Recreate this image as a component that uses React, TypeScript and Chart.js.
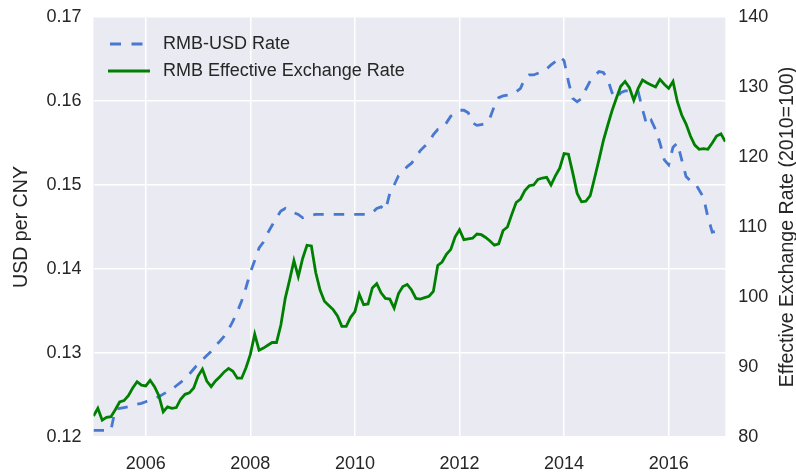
import React, { useEffect, useRef } from "react";
import { Chart, registerables } from "chart.js";

Chart.register(...registerables);

// Monthly observations, January 2005 onward
const START_YEAR = 2005;

// USD per CNY (left axis)
const usdPerCny: (number | null)[] = [
  0.1208, 0.1208, 0.1208, 0.1208, 0.1208, 0.1233, 0.1234, 0.1235, 0.1236, 0.1238, 0.1239, 0.1240,
  0.1242, 0.1244, 0.1246, 0.1248, 0.1251, 0.1254, 0.1257, 0.1261, 0.1265, 0.1270, 0.1275, 0.1281,
  0.1287, 0.1292, 0.1297, 0.1302, 0.1309, 0.1314, 0.1320, 0.1328, 0.1338, 0.1349, 0.1362, 0.1378,
  0.1396, 0.1410, 0.1425, 0.1432, 0.1443, 0.1452, 0.1461, 0.1469, 0.1472, 0.1468, 0.1467, 0.1465,
  0.1461, 0.1463, 0.1464, 0.1465, 0.1465, 0.1465, 0.1465, 0.1465, 0.1465, 0.1465, 0.1465, 0.1465,
  0.1465, 0.1465, 0.1465, 0.1465, 0.1467, 0.1472, 0.1474, 0.1470, 0.1490, 0.1500, 0.1511, 0.1516,
  0.1522, 0.1526, 0.1533, 0.1541, 0.1546, 0.1551, 0.1560, 0.1566, 0.1567, 0.1574, 0.1582, 0.1585,
  0.1589, 0.1589, 0.1586, 0.1574, 0.1571, 0.1572, 0.1573, 0.1580, 0.1594, 0.1604, 0.1606, 0.1607,
  0.1608, 0.1611, 0.1615, 0.1627, 0.1631, 0.1631, 0.1633, 0.1635, 0.1638, 0.1643, 0.1647, 0.1653,
  0.1648, 0.1623, 0.1603, 0.1599, 0.1603, 0.1614, 0.1624, 0.1630, 0.1635, 0.1634, 0.1626, 0.1610,
  0.1603, 0.1610, 0.1612, 0.1612, 0.1611, 0.1611, 0.1590, 0.1571, 0.1577, 0.1566, 0.1550, 0.1530,
  0.1524, 0.1545, 0.1550, 0.1530, 0.1510, 0.1505, 0.1503, 0.1494, 0.1485, 0.1462, 0.1444, 0.1445,
  0.1450, null,
];

// Effective exchange rate index, 2010 = 100 (right axis)
const effectiveRate: number[] = [
  83.0, 84.1, 82.4, 82.8, 82.9, 83.9, 85.0, 85.2, 85.9, 87.0, 87.9, 87.4,
  87.3, 88.1, 87.2, 85.9, 83.6, 84.3, 84.1, 84.2, 85.4, 86.1, 86.3, 87.0,
  88.7, 89.7, 88.0, 87.2, 88.0, 88.6, 89.3, 89.8, 89.4, 88.4, 88.4, 89.9,
  91.8, 94.7, 92.4, 92.7, 93.1, 93.5, 93.5, 96.0, 99.8, 102.4, 105.2, 102.9,
  105.5, 107.4, 107.3, 103.5, 101.0, 99.4, 98.8, 98.2, 97.3, 95.8, 95.8, 97.1,
  97.9, 100.4, 98.9, 99.0, 101.3, 101.9, 100.6, 99.8, 99.7, 98.4, 100.5, 101.5,
  101.8, 101.0, 99.8, 99.7, 99.9, 100.1, 100.8, 104.5, 105.0, 106.1, 106.8, 108.6,
  109.6, 108.2, 108.3, 108.4, 109.0, 108.9, 108.5, 108.0, 107.4, 107.6, 109.5, 110.0,
  111.8, 113.5, 114.0, 115.2, 115.9, 116.0, 116.8, 117.0, 117.1, 116.0, 117.3, 118.4,
  120.5, 120.4, 117.7, 114.8, 113.6, 113.7, 114.5, 117.0, 119.6, 122.3, 124.5, 126.6,
  128.4, 130.1, 130.8, 129.9, 128.1, 129.8, 131.0, 130.6, 130.3, 130.0, 131.1, 130.4,
  129.8, 130.8, 127.9, 126.0, 124.7, 123.0, 121.7, 121.1, 121.2, 121.1, 122.0, 123.0,
  123.3, 122.2,
];

const seriesLabels = ["RMB-USD Rate", "RMB Effective Exchange Rate"];
const xTickYears = [2006, 2008, 2010, 2012, 2014, 2016];
const leftTicks = [0.12, 0.13, 0.14, 0.15, 0.16, 0.17];
const rightTicks = [80, 90, 100, 110, 120, 130, 140];
const leftTitle = "USD per CNY";
const rightTitle = "Effective Exchange Rate (2010=100)";

const FONT_FAMILY = "'Liberation Sans', Arial, 'DejaVu Sans', sans-serif";
const TEXT_COLOR = "#262626";
const BLUE = "#4878CF";
const GREEN = "#008000";
const PLOT_BG = "#EAEAF2";

const bgPlugin = {
  id: "bgPlugin",
  beforeDraw(chart: any) {
    const { ctx, chartArea, width, height } = chart;
    ctx.save();
    ctx.fillStyle = "#ffffff";
    ctx.fillRect(0, 0, width, height);
    ctx.fillStyle = PLOT_BG;
    ctx.fillRect(chartArea.left, chartArea.top, chartArea.right - chartArea.left, chartArea.bottom - chartArea.top);
    ctx.restore();
  },
};

const legendPlugin = {
  id: "insideLegend",
  afterDatasetsDraw(chart: any) {
    const { ctx, chartArea } = chart;
    ctx.save();
    chart.data.datasets.forEach((ds: any, k: number) => {
      const y = chartArea.top + 27 + k * 27;
      const dashed = ds.borderDash && ds.borderDash.length > 0;
      const x0 = chartArea.left + (dashed ? 16.5 : 14.5);
      const x1 = chartArea.left + (dashed ? 50.5 : 56.5);
      ctx.beginPath();
      ctx.strokeStyle = ds.borderColor;
      ctx.lineWidth = ds.borderWidth;
      ctx.setLineDash(dashed ? [11, 10.5] : []);
      ctx.moveTo(x0, y);
      ctx.lineTo(x1, y);
      ctx.stroke();
      ctx.setLineDash([]);
      ctx.fillStyle = TEXT_COLOR;
      ctx.font = `18px ${FONT_FAMILY}`;
      ctx.textBaseline = "middle";
      ctx.textAlign = "left";
      ctx.fillText(ds.label, chartArea.left + 69.5, y);
    });
    ctx.restore();
  },
};

// Right-hand axis title, read bottom-to-top
const rightTitlePlugin = {
  id: "rightTitle",
  afterDraw(chart: any) {
    const { ctx, chartArea } = chart;
    ctx.save();
    ctx.translate(788, (chartArea.top + chartArea.bottom) / 2);
    ctx.rotate(-Math.PI / 2);
    ctx.fillStyle = TEXT_COLOR;
    ctx.font = `19.6px ${FONT_FAMILY}`;
    ctx.textAlign = "center";
    ctx.textBaseline = "middle";
    ctx.fillText(rightTitle, 0, 0);
    ctx.restore();
  },
};

export default function App() {
  const ref = useRef<HTMLCanvasElement>(null);

  useEffect(() => {
    document.body.style.margin = "0";
    const xs = effectiveRate.map((_, i) => START_YEAR + i / 12);
    const tickFont = { family: FONT_FAMILY, size: 18 };
    const titleFont = { family: FONT_FAMILY, size: 19.6 };

    const chart = new Chart(ref.current as HTMLCanvasElement, {
      type: "line",
      data: {
        datasets: [
          {
            label: seriesLabels[0],
            data: xs.map((x, i) => ({ x, y: usdPerCny[i] })),
            yAxisID: "y",
            borderColor: BLUE,
            backgroundColor: BLUE,
            borderDash: [10.5, 10],
            borderWidth: 2.8,
            pointRadius: 0,
            tension: 0,
            order: 1,
          },
          {
            label: seriesLabels[1],
            data: xs.map((x, i) => ({ x, y: effectiveRate[i] })),
            yAxisID: "y1",
            borderColor: GREEN,
            backgroundColor: GREEN,
            borderWidth: 2.8,
            pointRadius: 0,
            tension: 0,
            order: 0,
          },
        ],
      } as any,
      options: {
        animation: false,
        responsive: false,
        devicePixelRatio: 1,
        layout: { padding: { top: 17, left: 0, right: 0, bottom: 0 } },
        plugins: { legend: { display: false }, tooltip: { enabled: false } },
        scales: {
          x: {
            type: "linear",
            min: xs[0],
            max: xs[xs.length - 1],
            grid: { color: "#ffffff", lineWidth: 1.5, drawTicks: false },
            border: { display: false },
            ticks: { padding: 16, font: tickFont, color: TEXT_COLOR, callback: (v: any) => String(v) },
            afterBuildTicks: (s: any) => {
              s.ticks = xTickYears.map((v) => ({ value: v }));
            },
            afterFit: (s: any) => {
              s.height = 35;
              s.paddingLeft = 0;
              s.paddingRight = 0;
            },
          },
          y: {
            type: "linear",
            position: "left",
            min: leftTicks[0],
            max: leftTicks[leftTicks.length - 1],
            grid: { color: "#ffffff", lineWidth: 1.5, drawTicks: false },
            border: { display: false },
            ticks: { padding: 12, font: tickFont, color: TEXT_COLOR, callback: (v: any) => Number(v).toFixed(2) },
            afterBuildTicks: (s: any) => {
              s.ticks = leftTicks.map((v) => ({ value: v }));
            },
            title: { display: true, text: leftTitle, font: titleFont, color: TEXT_COLOR, padding: { top: 10, bottom: 0 } },
            afterFit: (s: any) => {
              s.width = 93.5;
              s.paddingTop = 0;
              s.paddingBottom = 0;
            },
          },
          y1: {
            type: "linear",
            position: "right",
            min: rightTicks[0],
            max: rightTicks[rightTicks.length - 1],
            grid: { display: false, drawTicks: false },
            border: { display: false },
            ticks: { padding: 13, font: tickFont, color: TEXT_COLOR },
            afterBuildTicks: (s: any) => {
              s.ticks = rightTicks.map((v) => ({ value: v }));
            },
            afterFit: (s: any) => {
              s.width = 70.7;
              s.paddingTop = 0;
              s.paddingBottom = 0;
            },
          },
        },
      } as any,
      plugins: [bgPlugin, legendPlugin, rightTitlePlugin],
    });
    return () => chart.destroy();
  }, []);

  return (
    <div style={{ position: "absolute", left: 0, top: 0, width: 796, height: 472 }}>
      <canvas ref={ref} width={796} height={472} style={{ display: "block", width: 796, height: 472 }} />
    </div>
  );
}
